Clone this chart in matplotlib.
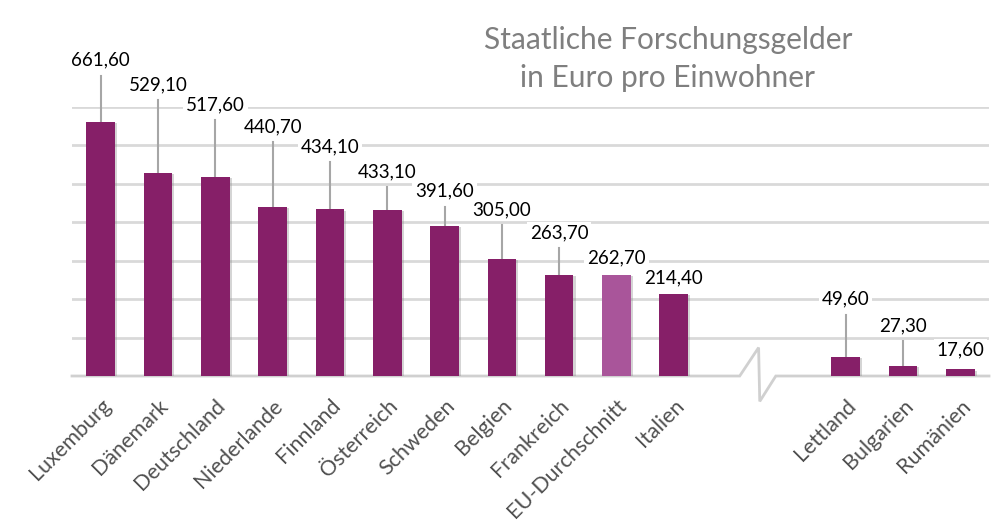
import numpy as np
import matplotlib
matplotlib.use('Agg')
import matplotlib.pyplot as plt
import matplotlib.patheffects as pe

plt.rcParams['font.family'] = ['Lato', 'DejaVu Sans']

# Data
countries_left = ['Luxemburg', 'Dänemark', 'Deutschland', 'Niederlande', 'Finnland',
                  'Österreich', 'Schweden', 'Belgien', 'Frankreich', 'EU-Durchschnitt', 'Italien']
values_left = [661.6, 529.1, 517.6, 440.7, 434.1, 433.1, 391.6, 305.0, 263.7, 262.7, 214.4]
countries_right = ['Lettland', 'Bulgarien', 'Rumänien']
values_right = [49.6, 27.3, 17.6]

# label heights (data units) as placed in the original chart
label_y_left = [822, 757, 705, 648, 596, 531, 481, 432, 372, 307, 255]
label_y_right = [200, 130, 68]

gap = 2  # empty slots for the axis break

bar_color = '#861F68'
avg_color = '#A9559A'
grid_color = '#D9D9D9'

x_left = np.arange(len(countries_left))
x_right = np.arange(len(countries_right)) + len(countries_left) + gap
xs = np.concatenate([x_left, x_right])
vals = values_left + values_right
names = countries_left + countries_right
label_ys = label_y_left + label_y_right
colors = [avg_color if n == 'EU-Durchschnitt' else bar_color for n in names]

fig = plt.figure(figsize=(10, 5.29), dpi=100, facecolor='white')
ax = fig.add_axes([0.072, 0.2892, 0.917, 0.5085])

bars = ax.bar(xs, vals, width=0.5, color=colors, zorder=3)
for b in bars:
    b.set_path_effects([pe.SimplePatchShadow(offset=(1.5, -1), shadow_rgbFace='#888888', alpha=0.35),
                        pe.Normal()])

ax.set_xlim(-0.5, xs[-1] + 0.5)
ax.set_ylim(0, 700)

# gridlines
for gy in range(100, 701, 100):
    ax.axhline(gy, color=grid_color, lw=2, zorder=1)

# baseline with break mark
brk = len(countries_left) - 1 + (gap + 1) / 2.0
base_x = [-0.5, brk - 0.35, brk - 0.02, brk, brk + 0.28, xs[-1] + 0.5]
base_y = [0, 0, 74, -66, 0, 0]
ax.plot(base_x, base_y, color='#D0D0D0', lw=2, clip_on=False, zorder=2,
        solid_joinstyle='miter')

# data labels with leader lines
for x, v, ly in zip(xs, vals, label_ys):
    txt = f'{v:.2f}'.replace('.', ',')
    ax.text(x, ly, txt, ha='center', va='center', fontsize=13.5, color='black',
            bbox=dict(boxstyle='square,pad=0.15', fc='white', ec='none'),
            zorder=4, clip_on=False)
    top = ly - 40
    if top - v > 15:
        ax.plot([x, x], [v, top], color='#A6A6A6', lw=1.5, zorder=2, clip_on=False)

ax.set_xticks(xs)
ax.set_xticklabels(names, rotation=45, ha='right', rotation_mode='anchor',
                   fontsize=15.5, color='#505050')
ax.tick_params(axis='x', length=0, pad=14)
ax.set_yticks([])
for s in ax.spines.values():
    s.set_visible(False)

fig.text(0.668, 0.925, 'Staatliche Forschungsgelder', ha='center', va='center',
         fontsize=21.5, color='#7F7F7F')
fig.text(0.668, 0.853, 'in Euro pro Einwohner', ha='center', va='center',
         fontsize=21.5, color='#7F7F7F')

fig.savefig('out.png', dpi=100, facecolor='white')
